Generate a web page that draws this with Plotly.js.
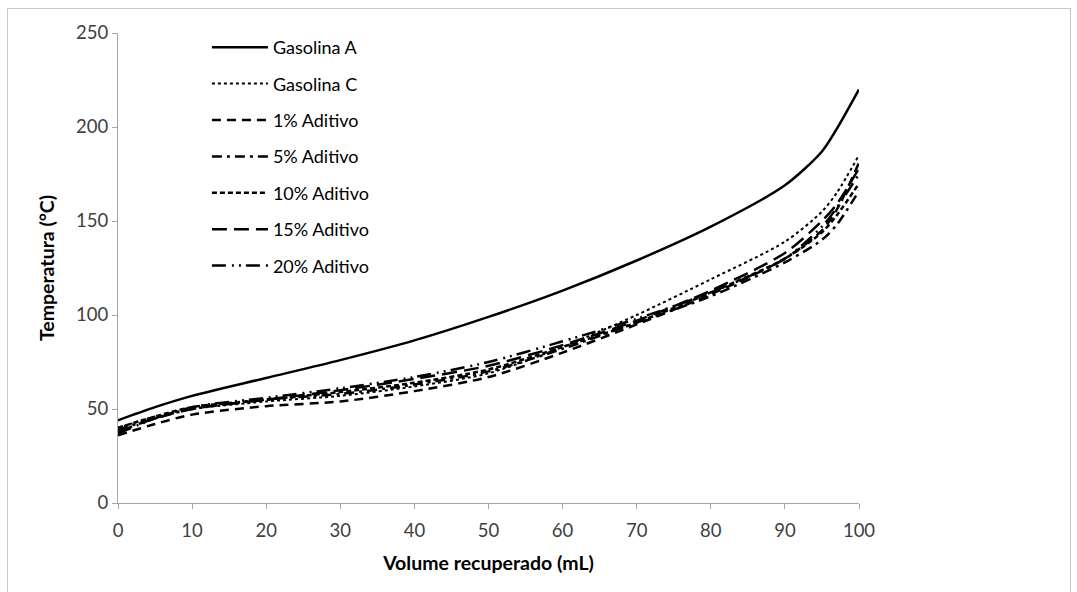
<!DOCTYPE html>
<html>
<head>
<meta charset="utf-8">
<script src="https://cdn.plot.ly/plotly-3.0.1.min.js"></script>
<style>
  html, body { margin: 0; padding: 0; background: #fff; }
  #wrap { position: relative; width: 1077px; height: 592px; }
  #chart { position: absolute; left: 0; top: 0; width: 1077px; height: 592px; }
  #frame { position: absolute; left: 7px; top: 8px; width: 1062px; height: 600px; border: 1px solid #c8c8c8; pointer-events: none; }
</style>
</head>
<body>
<div id="wrap">
  <div id="chart"></div>
  <div id="frame"></div>
</div>
<script>
// Volume recuperado (mL)
const volume = [0, 5, 10, 20, 30, 40, 50, 60, 70, 80, 90, 95, 97, 100];

const gasolinaA = [44, 51, 57, 66.5, 76, 86.5, 99, 113, 129, 147, 169, 187, 199, 220];
const gasolinaC = [40, 46, 50, 54, 57, 62, 69, 83, 100, 119, 139, 155, 165, 185];
const aditivo1  = [36, 42, 47, 51.5, 54, 59.5, 67, 80, 95, 111, 130, 145, 156, 181];
const aditivo5  = [39, 45, 50, 55, 58, 63, 70, 82, 96, 110, 128, 140, 148, 166];
const aditivo10 = [40, 46, 51, 55, 59, 64, 71, 83, 96, 112, 130, 144, 153, 170];
const aditivo15 = [38, 45, 50, 55, 60, 66, 73, 84, 97, 113, 133, 150, 159, 178];
const aditivo20 = [37, 45, 51, 56, 61, 67, 75, 86, 98, 112, 130, 147, 157, 175];

const seriesNames = ["Gasolina A", "Gasolina C", "1% Aditivo", "5% Aditivo", "10% Aditivo", "15% Aditivo", "20% Aditivo"];
const seriesValues = [gasolinaA, gasolinaC, aditivo1, aditivo5, aditivo10, aditivo15, aditivo20];
const dashes = ["solid", "dot", "9px,6px", "10px,5px,3px,5px", "5px,3px", "15px,7px", "14px,6px,2px,5px,2px,5px"];
const widths = [2.5, 2, 2.5, 2.5, 2.5, 2.5, 2.5];

const traces = seriesNames.map((n, i) => ({
  type: "scatter",
  mode: "lines",
  name: n,
  legendgroup: "g" + i,
  x: volume,
  y: seriesValues[i],
  line: { color: "#000000", width: widths[i], dash: dashes[i], shape: "spline", smoothing: 0.8 }
}));

const FONT = "Lato, 'Open Sans', sans-serif";

const layout = {
  width: 1077,
  height: 592,
  paper_bgcolor: "rgba(0,0,0,0)",
  plot_bgcolor: "#ffffff",
  margin: { l: 118, r: 218, t: 33, b: 89 },
  font: { family: FONT, color: "#404040", size: 18 },
  showlegend: true,
  legend: {
    x: 0.12, y: 1.0085, xanchor: "left", yanchor: "top",
    bgcolor: "rgba(255,255,255,0)",
    traceorder: "grouped",
    tracegroupgap: 10,
    itemwidth: 56,
    font: { family: FONT, size: 18, color: "#000000" }
  },
  xaxis: {
    range: [0, 100],
    dtick: 10,
    showgrid: false,
    zeroline: false,
    showline: true,
    linecolor: "#a6a6a6",
    linewidth: 1,
    ticks: "outside",
    ticklen: 5,
    tickcolor: "#a6a6a6",
    ticklabelstandoff: 6,
    tickfont: { size: 18.5, color: "#404040" },
    title: { text: "Volume recuperado (mL)", font: { size: 19.5, color: "#000000", family: FONT, weight: "bold" }, standoff: 16 }
  },
  yaxis: {
    range: [0, 250],
    dtick: 50,
    showgrid: false,
    zeroline: false,
    showline: true,
    linecolor: "#a6a6a6",
    linewidth: 1,
    ticks: "outside",
    ticklen: 5,
    tickcolor: "#a6a6a6",
    tickfont: { size: 18.5, color: "#404040" },
    title: { text: "Temperatura (°C)", font: { size: 19.5, color: "#000000", family: FONT, weight: "bold" }, standoff: 16 }
  }
};

Plotly.newPlot("chart", traces, layout, { displayModeBar: false, staticPlot: true });
</script>
</body>
</html>
